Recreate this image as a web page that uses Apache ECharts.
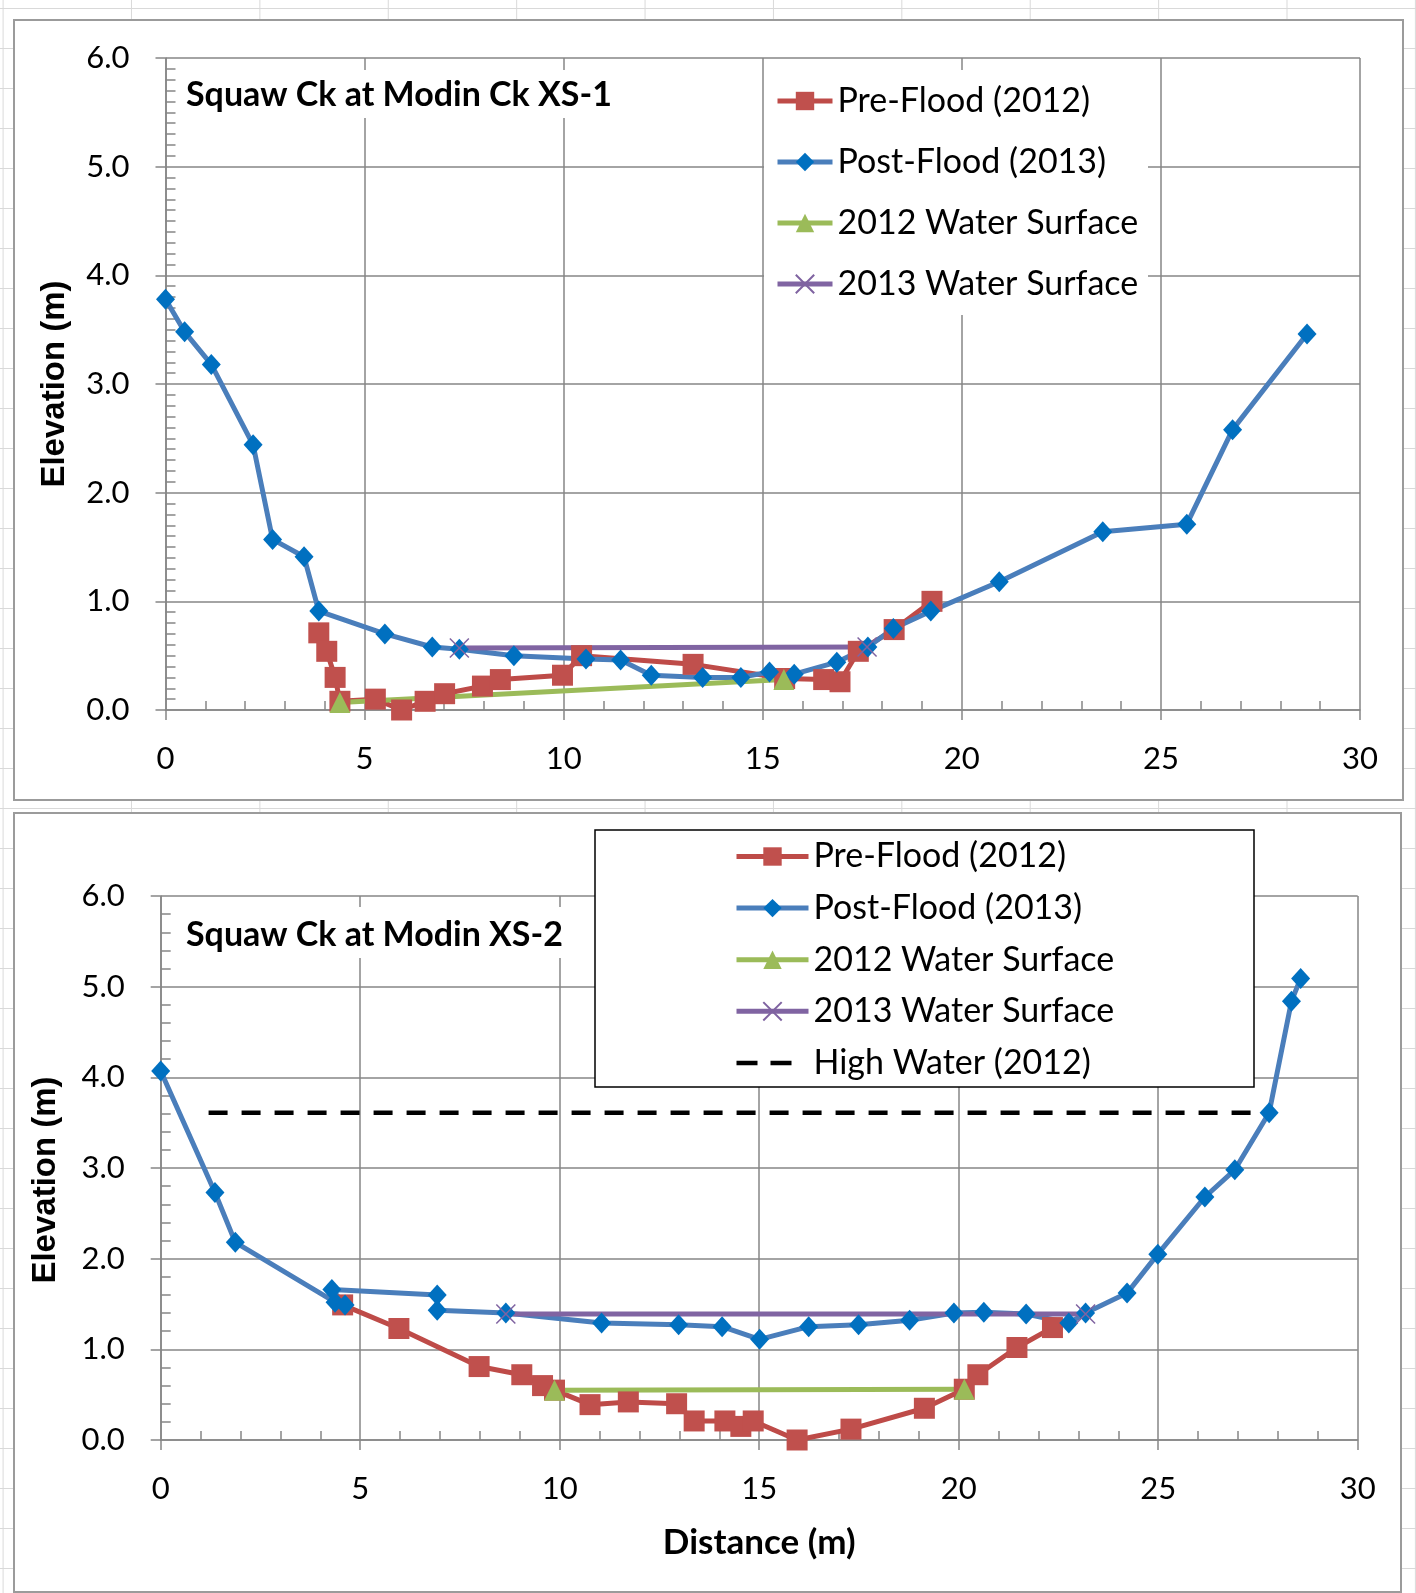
<!DOCTYPE html>
<html>
<head>
<meta charset="utf-8">
<script src="https://cdn.jsdelivr.net/npm/echarts@6/dist/echarts.min.js"></script>
<style>
html, body { margin: 0; padding: 0; }
body {
    width: 1416px; height: 1593px; overflow: hidden; position: relative;
    background-color: #fff;
    background-image: linear-gradient(to right, #d9d9d9 1px, transparent 1px),
                      linear-gradient(to bottom, #d9d9d9 1px, transparent 1px);
    background-size: 128.4px 40px;
    background-position: 2.6px 8px;
}
.frame { position: absolute; background: #fff; border: 2px solid #9b9b9b; box-sizing: border-box; }
#chart { position: absolute; left: 0; top: 0; width: 1416px; height: 1593px; }
</style>
</head>
<body>
<div class="frame" style="left:13px;top:19px;width:1391px;height:782px"></div>
<div class="frame" style="left:13px;top:812px;width:1389px;height:781px"></div>
<div id="chart"></div>
<script>
/** 数据 */
var seriesNames = ['Pre-Flood (2012)', 'Post-Flood (2013)', '2012 Water Surface', '2013 Water Surface', 'High Water (2012)'];
var distanceTicks = [0, 5, 10, 15, 20, 25, 30];
var elevationTicks = [0, 1, 2, 3, 4, 5, 6];

// XS-1 (top chart)
var xs1PreFlood = [[3.85, 0.71], [4.05, 0.54], [4.26, 0.30], [4.38, 0.08], [5.27, 0.10], [5.93, 0.00],
    [6.52, 0.08], [7.01, 0.15], [7.96, 0.22], [8.41, 0.28], [9.97, 0.32], [10.45, 0.50], [13.25, 0.42],
    [15.55, 0.29], [16.53, 0.28], [16.94, 0.26], [17.40, 0.54], [18.30, 0.74], [19.25, 1.00]];
var xs1PostFlood = [[0, 3.78], [0.48, 3.48], [1.15, 3.18], [2.20, 2.44], [2.69, 1.57], [3.48, 1.41],
    [3.85, 0.91], [5.51, 0.70], [6.70, 0.58], [7.38, 0.56], [8.75, 0.50], [10.56, 0.47], [11.43, 0.46],
    [12.20, 0.32], [13.49, 0.30], [14.45, 0.30], [15.17, 0.35], [15.79, 0.33], [16.86, 0.44], [17.64, 0.58],
    [18.28, 0.75], [19.22, 0.91], [20.94, 1.18], [23.54, 1.64], [25.65, 1.71], [26.80, 2.58], [28.67, 3.46]];
var xs1Water2012 = [[4.38, 0.07], [15.53, 0.28]];
var xs1Water2013 = [[7.38, 0.57], [17.62, 0.58]];

// XS-2 (bottom chart)
var xs2PreFlood = [[4.56, 1.49], [5.97, 1.23], [7.98, 0.81], [9.05, 0.72], [9.57, 0.60], [9.87, 0.55],
    [10.76, 0.39], [11.72, 0.42], [12.93, 0.40], [13.37, 0.21], [14.14, 0.21], [14.54, 0.15], [14.85, 0.21],
    [15.95, 0.00], [17.30, 0.12], [19.14, 0.35], [20.14, 0.56], [20.48, 0.72], [21.46, 1.02], [22.35, 1.24]];
var xs2PostFlood = [[0, 4.07], [1.36, 2.73], [1.87, 2.18], [4.37, 1.52], [4.62, 1.49], [4.29, 1.66],
    [6.93, 1.60], [6.93, 1.43], [8.65, 1.40], [11.05, 1.29], [12.98, 1.27], [14.07, 1.25], [15.01, 1.11],
    [16.24, 1.25], [17.49, 1.27], [18.77, 1.32], [19.88, 1.40], [20.63, 1.41], [21.69, 1.39], [22.76, 1.29],
    [23.18, 1.40], [24.22, 1.62], [24.99, 2.05], [26.17, 2.68], [26.92, 2.98], [27.78, 3.61], [28.34, 4.84],
    [28.57, 5.09]];
var xs2Water2012 = [[9.87, 0.55], [20.14, 0.56]];
var xs2Water2013 = [[8.65, 1.39], [23.18, 1.39]];
var xs2HighWater = [[1.2, 3.61], [27.78, 3.61]];

var AXIS_GRAY = '#868686';
var LABEL_FONT = 'Lato, "Liberation Sans", sans-serif';
var LINE_W = 5;

window.onload = function() {
    draw_chart();
}

function make_xaxis(gridIndex, name) {
    return {
        type: 'value', gridIndex: gridIndex,
        min: distanceTicks[0], max: distanceTicks[distanceTicks.length - 1],
        interval: distanceTicks[1] - distanceTicks[0],
        name: name, nameLocation: 'middle', nameGap: 85,
        nameTextStyle: { fontFamily: LABEL_FONT, fontWeight: 'bold', fontSize: 35, color: '#000' },
        axisLine: { show: true, onZero: false, lineStyle: { color: AXIS_GRAY, width: 1.5 } },
        axisTick: { show: true, inside: false, length: 10, lineStyle: { color: AXIS_GRAY, width: 1.5 } },
        minorTick: { show: true, splitNumber: 5, length: -9, lineStyle: { color: AXIS_GRAY, width: 1.5 } },
        splitLine: { show: true, lineStyle: { color: AXIS_GRAY, width: 1.5 } },
        axisLabel: { fontFamily: LABEL_FONT, fontSize: 31, color: '#000', margin: 33 }
    };
}

function make_yaxis(gridIndex, minorSplit, nameGap, namePad) {
    return {
        type: 'value', gridIndex: gridIndex,
        min: elevationTicks[0], max: elevationTicks[elevationTicks.length - 1],
        interval: elevationTicks[1] - elevationTicks[0],
        name: 'Elevation (m)', nameLocation: 'middle', nameGap: nameGap,
        nameTextStyle: { fontFamily: '"Liberation Sans", Arial, sans-serif', fontWeight: 'bold', fontSize: 33,
                         color: '#000', padding: namePad },
        axisLine: { show: true, onZero: false, lineStyle: { color: AXIS_GRAY, width: 1.5 } },
        axisTick: { show: true, inside: false, length: 10, lineStyle: { color: AXIS_GRAY, width: 1.5 } },
        minorTick: { show: true, splitNumber: minorSplit, length: -10, lineStyle: { color: AXIS_GRAY, width: 1.5 } },
        splitLine: { show: true, lineStyle: { color: AXIS_GRAY, width: 1.5 } },
        axisLabel: {
            fontFamily: LABEL_FONT, fontSize: 31, color: '#000', margin: 36,
            formatter: function(v) { return v.toFixed(1); }
        }
    };
}

function make_series(idx, data) {
    var s = [
        { name: seriesNames[0], type: 'line', data: data[0], symbol: 'rect', symbolSize: 21,
          itemStyle: { color: '#C0504D' }, lineStyle: { color: '#BE4B48', width: LINE_W } },
        { name: seriesNames[1], type: 'line', data: data[1], symbol: 'diamond', symbolSize: [19, 21],
          itemStyle: { color: '#0070C0' }, lineStyle: { color: '#4A7EBB', width: LINE_W } },
        { name: seriesNames[2], type: 'line', data: data[2], symbol: 'triangle', symbolSize: 21,
          itemStyle: { color: '#9BBB59' }, lineStyle: { color: '#9BBB59', width: LINE_W } },
        { name: seriesNames[3], type: 'line', data: data[3], symbol: 'path://M0,0L10,10M10,0L0,10', symbolSize: 19,
          itemStyle: { color: 'rgba(0,0,0,0)', borderColor: '#7F63A1', borderWidth: 1.5 },
          lineStyle: { color: '#8064A2', width: LINE_W } }
    ];
    if (data[4]) {
        s.push({ name: seriesNames[4], type: 'line', data: data[4], symbol: 'none',
            itemStyle: { color: '#000' }, lineStyle: { color: '#000', width: 4.5, type: [19, 14] } });
    }
    for (var i = 0; i < s.length; i++) {
        s[i].xAxisIndex = idx;
        s[i].yAxisIndex = idx;
        s[i].showSymbol = s[i].symbol !== 'none';
        s[i].animation = false;
    }
    return s;
}

function draw_chart() {
    var myChart = echarts.init(document.getElementById('chart'), null, { renderer: 'canvas' });
    var legendText = { fontFamily: LABEL_FONT, fontSize: 34, lineHeight: 36, color: '#000' };
    var titleText = { fontFamily: LABEL_FONT, fontWeight: 'bold', fontSize: 34, lineHeight: 34, color: '#000' };
    var option = {
        backgroundColor: 'transparent',
        animation: false,
        grid: [
            { left: 165.5, top: 58, right: 56, bottom: 883, outerBoundsMode: 'none' },
            { left: 160.7, top: 896, right: 58.3, bottom: 153, outerBoundsMode: 'none' }
        ],
        xAxis: [make_xaxis(0, ''), make_xaxis(1, 'Distance (m)')],
        yAxis: [make_yaxis(0, 10, 94, 0), make_yaxis(1, 5, 98, [0, 24, 0, 0])],
        title: [
            { text: 'Squaw Ck at Modin Ck XS-1', left: 186, top: 78, padding: 0, textStyle: titleText },
            { text: 'Squaw Ck at Modin XS-2', left: 186, top: 918, padding: 0, textStyle: titleText }
        ],
        legend: [
            { orient: 'vertical', left: 775, top: 83, padding: 0, itemGap: 25, itemWidth: 55, itemHeight: 23,
              selectedMode: false, textStyle: legendText, lineStyle: { width: LINE_W },
              data: seriesNames.slice(0, 4) },
            { orient: 'vertical', left: 734, top: 838.5, padding: 0, itemGap: 15.6, itemWidth: 72, itemHeight: 23,
              selectedMode: false, textStyle: legendText, lineStyle: { width: LINE_W },
              data: seriesNames.slice(0, 4).concat([{
                  name: seriesNames[4], itemStyle: { opacity: 0 },
                  lineStyle: { width: 4.5, type: [21, 13, 21, 60] }
              }]) }
        ],
        graphic: [
            { type: 'rect', z: 1, shape: { x: 178, y: 70, width: 444, height: 48 }, style: { fill: '#fff' } },
            { type: 'rect', z: 1, shape: { x: 764, y: 70, width: 384, height: 245 }, style: { fill: '#fff' } },
            { type: 'rect', z: 1, shape: { x: 175, y: 907, width: 395, height: 51 }, style: { fill: '#fff' } },
            { type: 'rect', z: 1, shape: { x: 595, y: 830, width: 659, height: 257 },
              style: { fill: '#fff', stroke: '#000', lineWidth: 1.5 } }
        ],
        series: make_series(0, [xs1PreFlood, xs1PostFlood, xs1Water2012, xs1Water2013])
            .concat(make_series(1, [xs2PreFlood, xs2PostFlood, xs2Water2012, xs2Water2013, xs2HighWater]))
    };
    myChart.setOption(option);
}
</script>
</body>
</html>
